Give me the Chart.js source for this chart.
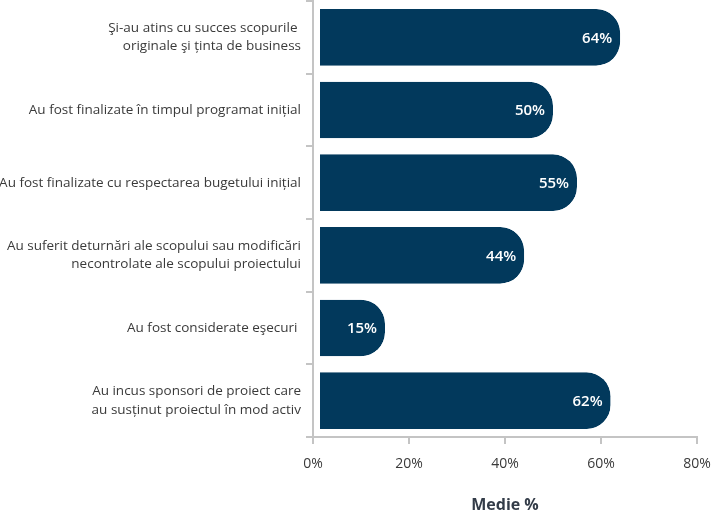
<!DOCTYPE html>
<html>
<head>
<meta charset="utf-8">
<script src="https://cdn.jsdelivr.net/npm/chart.js@4/dist/chart.umd.min.js"></script>
<style>
  html, body { margin: 0; padding: 0; background: #fff; }
  #wrap { width: 716px; height: 510px; }
</style>
</head>
<body>
<div id="wrap"><canvas id="myChart" width="716" height="510"></canvas></div>
<script>
const categories = [
    ['Şi-au atins cu succes scopurile ', 'originale şi ținta de business'],
    'Au fost finalizate în timpul programat inițial',
    'Au fost finalizate cu respectarea bugetului inițial',
    ['Au suferit deturnări ale scopului sau modificări', 'necontrolate ale scopului proiectului'],
    'Au fost considerate eşecuri ',
    ['Au incus sponsori de proiect care', 'au susținut proiectul în mod activ']
];
const values = [64, 50, 55, 44, 15, 62];
const xTicks = [0, 20, 40, 60, 80];
const axisTitle = 'Medie %';

const navy = '#02395c';
const axisGrey = '#c4c4c4';
const textGrey = '#3a3a3a';

// white percentage text near the end of each bar
const barLabels = {
    id: 'barLabels',
    afterDatasetsDraw(chart) {
        const ctx = chart.ctx;
        const meta = chart.getDatasetMeta(0);
        ctx.save();
        ctx.font = '600 15px "Open Sans"';
        ctx.fillStyle = '#ffffff';
        ctx.textAlign = 'right';
        ctx.textBaseline = 'middle';
        meta.data.forEach((bar, i) => {
            ctx.fillText(values[i] + '%', bar.x - 8, bar.y + 1);
        });
        ctx.restore();
    }
};

new Chart("myChart", {
    type: "bar",
    data: {
        labels: categories,
        datasets: [{
            data: values,
            backgroundColor: navy,
            borderColor: 'rgba(0,0,0,0)',
            borderWidth: { left: 6, top: 0, right: 0, bottom: 0 },
            borderSkipped: false,
            borderRadius: { topLeft: 0, bottomLeft: 0, topRight: 24, bottomRight: 24 },
            barPercentage: 0.78,
            categoryPercentage: 1
        }]
    },
    plugins: [barLabels],
    options: {
        indexAxis: 'y',
        responsive: false,
        animation: false,
        layout: { padding: { top: 1, right: 19, left: 0, bottom: 0 } },
        plugins: {
            legend: { display: false },
            tooltip: { enabled: false }
        },
        scales: {
            x: {
                min: 0,
                max: 80,
                afterBuildTicks: (scale) => {
                    scale.ticks = xTicks.map(v => ({ value: v }));
                },
                afterFit: (scale) => {
                    scale.height = 73;
                    scale.paddingLeft = 0;
                    scale.paddingRight = 0;
                },
                border: { color: axisGrey, width: 2 },
                grid: {
                    drawOnChartArea: false,
                    drawTicks: true,
                    tickLength: 7,
                    color: axisGrey,
                    lineWidth: 2
                },
                ticks: {
                    color: textGrey,
                    font: { family: '"Open Sans"', size: 14 },
                    padding: 12,
                    callback: (v) => v + '%'
                },
                title: {
                    display: true,
                    text: axisTitle,
                    color: '#333c48',
                    font: { family: '"Open Sans"', size: 16, weight: 'bold' },
                    padding: { top: 0, bottom: -5 }
                }
            },
            y: {
                afterFit: (scale) => {
                    scale.width = 313;
                    scale.paddingTop = 0;
                    scale.paddingBottom = 0;
                },
                border: { color: axisGrey, width: 2 },
                grid: {
                    offset: true,
                    drawOnChartArea: false,
                    drawTicks: true,
                    tickLength: 7,
                    color: axisGrey,
                    lineWidth: 2
                },
                ticks: {
                    color: textGrey,
                    font: { family: '"Open Sans"', size: 13.5, lineHeight: 1.35 },
                    padding: 5
                }
            }
        }
    }
});
</script>
</body>
</html>
